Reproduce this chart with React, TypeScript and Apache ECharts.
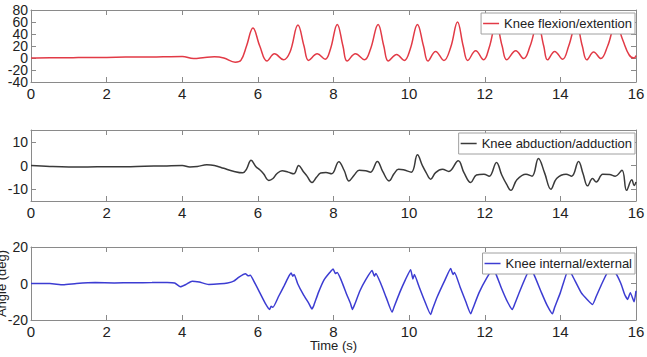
import React, { useEffect, useRef } from "react";
import * as echarts from "echarts";

// Time in seconds, angle in degrees
const flexion: [number, number][] = [
  [0, 0], [0.5, 0.5], [1.0, 0.3], [1.5, 1], [2.0, 1], [2.5, 1.5], [3.0, 1.5], [3.5, 2], [4.0, 2.5],
  [4.3, -1], [4.6, 1], [4.85, 2], [5.1, 0], [5.4, -7], [5.55, -4], [5.7, 20], [5.87, 50], [6.05, 20],
  [6.24, -5], [6.44, 7], [6.68, -3], [6.85, 10], [7.06, 55], [7.22, 20], [7.34, -4], [7.57, 7],
  [7.78, -2], [7.92, 15], [8.1, 56], [8.25, 20], [8.36, -5], [8.58, 7], [8.82, -3], [8.98, 15],
  [9.18, 56], [9.33, 20], [9.45, -5], [9.67, 6], [9.87, -4], [10.03, 15], [10.22, 56], [10.38, 20],
  [10.5, -5], [10.7, 11], [10.92, -4], [11.1, 18], [11.28, 60], [11.43, 20], [11.55, -4], [11.76, 12],
  [11.97, -3], [12.12, 18], [12.3, 58], [12.46, 20], [12.58, -3], [12.82, 12], [13.03, -1], [13.2, 20],
  [13.4, 58], [13.56, 20], [13.66, -3], [13.85, 11], [14.06, -2], [14.22, 20], [14.42, 58], [14.58, 20],
  [14.7, -3], [14.88, 10], [15.07, -1], [15.25, 20], [15.47, 58], [15.65, 30], [15.82, 5], [15.95, 0],
  [16.0, 4],
];

const abduction: [number, number][] = [
  [0, 0], [0.5, -0.4], [1.0, -0.6], [1.5, -0.6], [2.0, -0.5], [2.5, -0.5], [3.0, -0.3], [3.5, -0.2],
  [4.0, 0], [4.2, -0.6], [4.4, -0.4], [4.65, 0.3], [4.85, 0], [5.1, -1.2], [5.35, -2.4], [5.6, -3.1],
  [5.7, -1.5], [5.82, 2.2], [5.95, -0.5], [6.05, -1.8], [6.15, -3.5], [6.29, -6.3], [6.4, -5.5],
  [6.5, -3.5], [6.64, -2.2], [6.8, -2.8], [6.95, -3.5], [7.08, 0], [7.2, -2.5], [7.3, -4.5],
  [7.43, -7.2], [7.55, -5], [7.66, -3.2], [7.8, -3], [7.95, -3.5], [8.14, 1.6], [8.28, -2],
  [8.41, -6.5], [8.55, -4], [8.68, -2], [8.85, -2.2], [8.98, -2.8], [9.16, 1.7], [9.3, -2.5],
  [9.47, -6.5], [9.6, -3.5], [9.72, -1.6], [9.85, -1.8], [10.06, -2.8], [10.22, 4.5], [10.35, 0],
  [10.45, -3], [10.57, -5.8], [10.7, -3], [10.88, -1.6], [11.05, -2.5], [11.3, 2], [11.45, -3],
  [11.63, -7.2], [11.78, -4], [11.98, -3.7], [12.12, -4.5], [12.31, 1.3], [12.45, -4], [12.58, -8],
  [12.69, -10.5], [12.85, -6], [13.09, -3.7], [13.25, -4.5], [13.42, 3], [13.58, -3], [13.75, -10],
  [13.9, -5.5], [14.15, -3.7], [14.3, -4.5], [14.48, 1.7], [14.6, -3.5], [14.72, -8.6], [14.85, -5.5],
  [14.95, -7], [15.12, -3.7], [15.3, -3.8], [15.45, -4.5], [15.63, -2], [15.75, -10.5], [15.89, -6],
  [15.95, -8.5], [16.0, -7],
];

const rotation: [number, number][] = [
  [0, 0], [0.5, 0], [0.85, -0.7], [1.2, 0], [1.7, 0.5], [2.2, 0.3], [2.7, 0.4], [3.2, 0.5], [3.6, 0.6],
  [3.8, 0.3], [3.95, -1.8], [4.1, -0.5], [4.26, 1.3], [4.45, 0.8], [4.7, -0.5], [5.0, -0.2], [5.2, 0.3],
  [5.36, 1.3], [5.5, 3.5], [5.67, 5.3], [5.75, 4.2], [5.8, 4.5], [5.9, 1], [6.05, -5], [6.2, -11],
  [6.31, -14.2], [6.35, -12.5], [6.4, -13], [6.55, -7], [6.7, -1], [6.82, 4], [6.88, 5.8], [6.92, 4],
  [6.96, 5], [7.05, 0], [7.2, -6], [7.35, -11], [7.43, -14], [7.48, -12], [7.6, -5], [7.75, 2],
  [7.9, 6], [7.99, 8], [8.05, 5.5], [8.1, 6], [8.2, 2], [8.35, -6], [8.45, -11], [8.5, -14.2],
  [8.55, -12], [8.7, -4], [8.85, 2], [9.02, 7.1], [9.08, 4], [9.12, 5.5], [9.25, 0], [9.4, -8],
  [9.55, -15.7], [9.6, -13], [9.75, -5], [9.9, 2], [10.04, 7.6], [10.1, 2.5], [10.14, 5], [10.25, -1],
  [10.4, -9], [10.57, -17], [10.62, -14], [10.75, -7], [10.95, 2], [11.1, 8.2], [11.16, 5], [11.2, 6],
  [11.35, -2], [11.5, -10], [11.63, -16.6], [11.68, -14], [11.85, -5], [12.05, 3], [12.22, 8],
  [12.3, 5], [12.45, -3], [12.6, -10], [12.73, -14.2], [12.78, -12], [12.95, -3], [13.2, 8], [13.3, 5],
  [13.5, -5], [13.65, -12], [13.79, -16.6], [13.85, -13], [14.0, -5], [14.22, 8], [14.35, 3],
  [14.55, -5], [14.72, -9], [14.85, -11.5], [14.95, -7], [15.1, 0], [15.3, 7.5], [15.45, 6], [15.6, 0],
  [15.7, -6], [15.78, -8.7], [15.85, -5], [15.95, -10], [16.0, -4],
];

const seriesNames = ["Knee flexion/extention", "Knee abduction/adduction", "Knee internal/external"];
const seriesColors = ["#e23a46", "#3a3a3a", "#3c3cd2"];
const yRanges: [number, number][] = [[-40, 80], [-15, 15], [-20, 20]];
const yTicks: number[][] = [[-40, -20, 0, 20, 40, 60, 80], [-10, 0, 10], [-20, 0, 20]];
// the crowded top-panel labels are split over two overlaid left axes
const yLabelSetsTop: number[][] = [[-40, 0, 40, 80], [-20, 20, 60]];
const xTicks = [0, 2, 4, 6, 8, 10, 12, 14, 16];
const xLabel = "Time (s)";
const yLabel = "Angle (deg)";

const FONT = "'Liberation Sans', Arial, sans-serif";
const AXIS_COLOR = "#8a8a8a";

export default function App() {
  const ref = useRef<HTMLDivElement>(null);
  useEffect(() => {
    if (!ref.current) return;
    const chart = echarts.init(ref.current, undefined, { renderer: "svg" });
    const grids = [
      { left: 31, top: 10, width: 605, height: 72, containLabel: false, outerBoundsMode: "none" },
      { left: 31, top: 130, width: 605, height: 71, containLabel: false, outerBoundsMode: "none" },
      { left: 31, top: 247, width: 605, height: 73, containLabel: false, outerBoundsMode: "none" },
    ];
    const legendTops = [13, 133, 253];
    const datasets = [flexion, abduction, rotation];

    const labelStyle = (size: number) => ({
      show: true,
      interval: 0,
      fontSize: size,
      color: "#222",
      fontFamily: FONT,
      showMinLabel: true,
      showMaxLabel: true,
      hideOverlap: false,
    });

    const xAxis: any[] = [];
    const yAxis: any[] = [];
    const primaryY: number[] = [];
    grids.forEach((_, i) => {
      const base = {
        gridIndex: i,
        type: "value",
        min: 0,
        max: 16,
        interval: 2,
        axisLine: { show: true, onZero: false, lineStyle: { color: AXIS_COLOR, width: 1 } },
        axisTick: { show: true, inside: true, length: 5, lineStyle: { color: AXIS_COLOR }, customValues: xTicks },
        splitLine: { show: false },
      };
      xAxis.push({
        ...base,
        position: "bottom",
        axisLabel: { ...labelStyle(15), margin: 4, customValues: xTicks },
        ...(i === 2
          ? {
              name: xLabel,
              nameLocation: "middle",
              nameGap: 19,
              nameMoveOverlap: false,
              nameTextStyle: { fontSize: 13, color: "#222", fontFamily: FONT },
            }
          : {}),
      });
      xAxis.push({ ...base, position: "top", axisLabel: { show: false } });

      const ybase = {
        gridIndex: i,
        type: "value",
        min: yRanges[i][0],
        max: yRanges[i][1],
        axisLine: { show: true, onZero: false, lineStyle: { color: AXIS_COLOR, width: 1 } },
        axisTick: { show: true, inside: true, length: 5, lineStyle: { color: AXIS_COLOR }, customValues: yTicks[i] },
        splitLine: { show: false },
      };
      primaryY.push(yAxis.length);
      yAxis.push({
        ...ybase,
        position: "left",
        axisLabel: {
          ...labelStyle(14),
          margin: 3,
          customValues: i === 0 ? yLabelSetsTop[0] : yTicks[i],
        },
        ...(i === 2
          ? {
              name: yLabel,
              nameLocation: "middle",
              nameGap: 23,
              nameMoveOverlap: false,
              nameTextStyle: { fontSize: 13, color: "#222", fontFamily: FONT },
            }
          : {}),
      });
      yAxis.push({ ...ybase, position: "right", axisLabel: { show: false } });
      if (i === 0) {
        yAxis.push({
          ...ybase,
          position: "left",
          offset: 0,
          axisLine: { show: false, onZero: false },
          axisTick: { show: false },
          axisLabel: { ...labelStyle(14), margin: 3, customValues: yLabelSetsTop[1] },
        });
      }
    });

    const option: any = {
      animation: false,
      backgroundColor: "#ffffff",
      grid: grids,
      xAxis,
      yAxis,
      legend: seriesNames.map((name, i) => ({
        data: [name],
        right: 12,
        top: legendTops[i],
        padding: [4, 3, 4, 2],
        itemWidth: 16,
        itemHeight: 1.5,
        icon: "rect",
        borderColor: "#a0a0a0",
        borderWidth: 1,
        backgroundColor: "#ffffff",
        textStyle: { fontSize: 13, color: "#222", fontFamily: FONT },
        selectedMode: false,
      })),
      series: datasets.map((d, i) => ({
        name: seriesNames[i],
        type: "line",
        xAxisIndex: i * 2,
        yAxisIndex: primaryY[i],
        data: d,
        showSymbol: false,
        symbol: "none",
        smooth: i === 2 ? 0.15 : 0.4,
        lineStyle: { color: seriesColors[i], width: 1.5 },
        itemStyle: { color: seriesColors[i] },
      })),
    };
    chart.setOption(option);
    return () => chart.dispose();
  }, []);
  return (
    <div
      ref={ref}
      style={{ position: "absolute", left: 0, top: 0, width: 647, height: 357 }}
    />
  );
}
